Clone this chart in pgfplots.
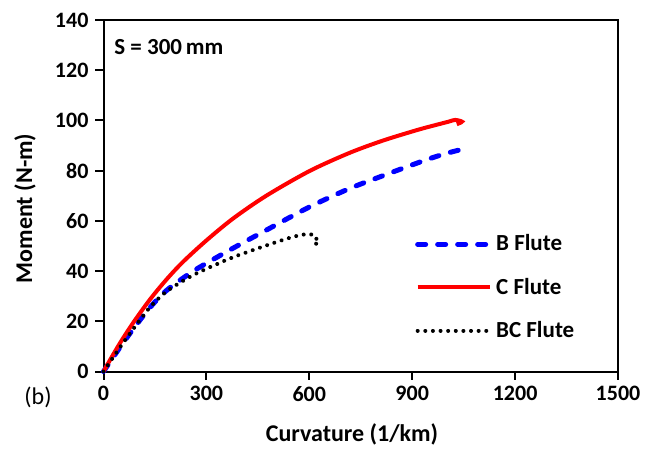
\documentclass[border=0pt]{standalone}
\usepackage{fontspec}
\setmainfont{Carlito}
\usepackage{pgfplots}
\pgfplotsset{compat=1.18}

\definecolor{bflute}{RGB}{0,0,255}
\definecolor{cflute}{RGB}{255,0,0}

\begin{document}
\begin{tikzpicture}
\begin{axis}[
  scale only axis, width=257.25pt, height=175.75pt,
  xmin=0, xmax=1500, ymin=0, ymax=140,
  xtick={0,300,...,1500}, ytick={0,20,...,140},
  xtick pos=bottom, ytick pos=left,
  tick align=outside, major tick length=4pt,
  axis line style={line width=1pt}, every tick/.style={black, line width=1pt},
  /pgf/number format/assume math mode=true,
  /pgf/number format/set thousands separator={},
  tick label style={font=\fontsize{11}{13}\selectfont\bfseries},
  xlabel={Curvature (1/km)}, ylabel={Moment (N-m)},
  label style={font=\fontsize{12}{14}\selectfont\bfseries},
  xlabel style={at={(axis description cs:0.483,-0.179)}, anchor=center},
  ylabel style={at={(axis description cs:-0.1525,0.464)}, anchor=center},
  legend style={draw=none, fill=none, at={(axis description cs:0.605,0.239)}, anchor=west,
    font=\fontsize{11.5}{13}\selectfont\bfseries, row sep=8pt, inner sep=0pt},
  legend cell align=left,
  legend image code/.code={\draw[#1] (0pt,0pt) -- (36pt,0pt);},
  clip=false,
]
\addplot[bflute, line width=2.5pt, line cap=round, dash pattern=on 4pt off 6pt, smooth, tension=0.5] coordinates {
 (0,0)(48.5,9.7)(87,17)(135.6,25.5)(184,32.3)(251.8,39.1)(300,43.1)(377.5,49.1)
 (474.5,56.3)(600,65.5)(716,72.8)(813,77.9)(910,82.8)(958,85.1)(1000,86.9)(1040,88.3)};
\addlegendentry{B Flute}
\addplot[cflute, line width=2pt, smooth, tension=0.5] coordinates {
 (0,0)(20,4.8)(48.5,11.4)(87,19.5)(135.6,28.7)(184,36.7)(232,43.7)(300,52.2)(377.5,60.9)
 (474.5,70)(600,79.8)(716,87)(813,91.9)(910,96)(958,97.8)(1006,99.5)(1025,100.2)
 (1045,99.5)(1030,98.5)};
\addlegendentry{C Flute}
\addplot[black, line width=2pt, line cap=round, dash pattern=on 0.01pt off 3.8pt, smooth, tension=0.5] coordinates {
 (0,0)(48.5,9.7)(87,17)(135.6,25.6)(184,31.9)(251.8,37.7)(300,40.9)(377.5,45.5)
 (474.5,50.2)(542,53.2)(581,54.5)(605,54.6)(622,53.2)(612,51.8)(624,50.4)(612,49.5)};
\addlegendentry{BC Flute}
\node[anchor=west, inner sep=0pt, font=\fontsize{11.5}{13}\selectfont\bfseries]
  at (rel axis cs:0,1) [xshift=5.25pt, yshift=-13.75pt] {S = 300\,mm};
\node[inner sep=0pt, font=\fontsize{12}{14}\selectfont]
  at (rel axis cs:0,0) [xshift=-32.75pt, yshift=-13pt] {(b)};
\end{axis}
\pgfresetboundingbox
\path (-51.75pt,-42pt) rectangle (272.25pt,185.75pt);
\end{tikzpicture}
\end{document}
